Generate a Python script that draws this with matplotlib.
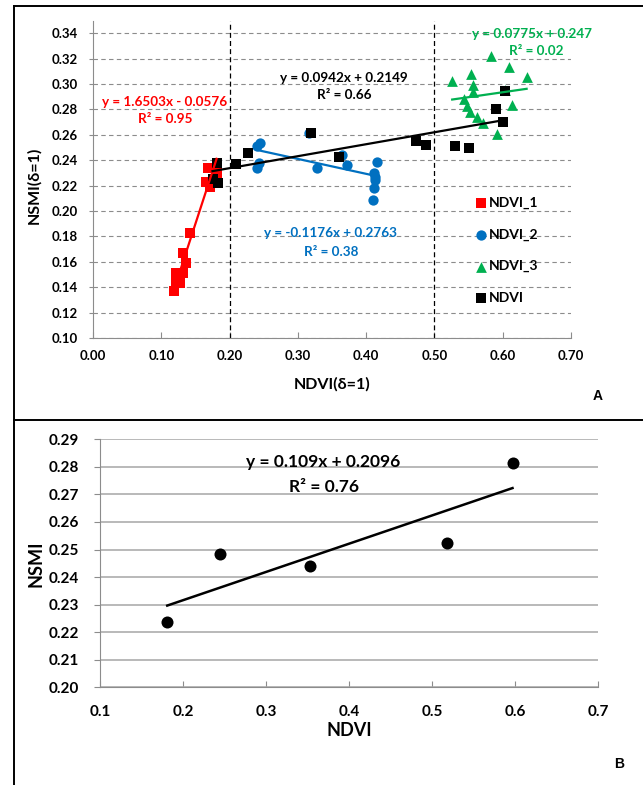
import matplotlib
matplotlib.use("Agg")
import matplotlib.pyplot as plt
from matplotlib.lines import Line2D
import numpy as np

plt.rcParams["font.family"] = ["Lato", "DejaVu Sans"]
plt.rcParams["font.weight"] = "bold"

W, H = 643, 785

# ---- panel A data ----
ndvi1_x = [0.119, 0.121, 0.127, 0.122, 0.132, 0.136, 0.132, 0.142, 0.165, 0.171, 0.169, 0.181]
ndvi1_y = [0.137, 0.143, 0.143, 0.151, 0.151, 0.159, 0.167, 0.183, 0.223, 0.219, 0.234, 0.230]

ndvi2_x = [0.2445, 0.2397, 0.2435, 0.2406, 0.3167, 0.3275, 0.364, 0.3714,
           0.4154, 0.4114, 0.413, 0.4125, 0.4114, 0.4104]
ndvi2_y = [0.2533, 0.2512, 0.238, 0.2336, 0.2617, 0.2336, 0.2441, 0.2362,
           0.2388, 0.2297, 0.2244, 0.2265, 0.2179, 0.2087]

ndvi3_x = [0.526, 0.5827, 0.609, 0.635, 0.5534, 0.5568, 0.5568, 0.5432,
           0.547, 0.552, 0.5627, 0.5715, 0.6135, 0.592, 0.603]
ndvi3_y = [0.3024, 0.322, 0.3136, 0.3058, 0.3076, 0.2992, 0.294, 0.288,
           0.2827, 0.2782, 0.2738, 0.2695, 0.2835, 0.2604, 0.2953]

ndvi_x = [0.175, 0.181, 0.1835, 0.2094, 0.2274, 0.3187, 0.3602, 0.4725,
          0.487, 0.530, 0.551, 0.590, 0.600, 0.6037]
ndvi_y = [0.225, 0.2375, 0.2223, 0.237, 0.2459, 0.2612, 0.2423, 0.2551,
          0.2517, 0.2514, 0.2494, 0.280, 0.2698, 0.2947]

series_names = ["NDVI_1", "NDVI_2", "NDVI_3", "NDVI"]
slopes = [1.6503, -0.1176, 0.0775, 0.0942]
intercepts = [-0.0576, 0.2763, 0.247, 0.2149]

# ---- panel B data ----
b_x = [0.181, 0.2446, 0.353, 0.5177, 0.597]
b_y = [0.2236, 0.2483, 0.2440, 0.2522, 0.2815]


def fx(px):
    return px / W


def fy(py):
    return 1 - py / H


fig = plt.figure(figsize=(W / 100, H / 100), dpi=100)

# frame lines around the figure
for xs, ys in [((14, W), (6, 6)), ((14, 14), (6, H)), ((14, W), (420, 420))]:
    fig.add_artist(Line2D([fx(v) for v in xs], [fy(v) for v in ys],
                          color="black", lw=1.4))

# ---------------- panel A ----------------
ax = fig.add_axes([fx(93), fy(338), fx(571) - fx(93), fy(20.5) - fy(338)])
ax.set_xlim(0, 0.7)
ax.set_ylim(0.10, 0.35)
ax.set_xticks(np.arange(0, 0.71, 0.1))
ax.set_yticks(np.arange(0.10, 0.341, 0.02))
ax.xaxis.set_major_formatter(plt.FormatStrFormatter("%.2f"))
ax.yaxis.set_major_formatter(plt.FormatStrFormatter("%.2f"))
ax.grid(axis="y", color="#8c8c8c", ls=(0, (4, 3)), lw=0.8)
ax.set_axisbelow(True)
for s in ["top", "right"]:
    ax.spines[s].set_visible(False)
for s in ["left", "bottom"]:
    ax.spines[s].set_color("#8c8c8c")
ax.tick_params(axis="x", direction="in", length=4, color="#8c8c8c", pad=9, labelsize=9.5)
ax.tick_params(axis="y", direction="out", length=3, color="#8c8c8c", pad=8, labelsize=9.5)

for xv in [0.2, 0.5]:
    ax.axvline(xv, color="black", ls=(0, (4, 2.5)), lw=0.9)

colors = ["#ff0000", "#0070c0", "#00b050", "black"]
markers = ["s", "o", "^", "s"]
sizes = [55, 55, 60, 50]
xs_all = [ndvi1_x, ndvi2_x, ndvi3_x, ndvi_x]
ys_all = [ndvi1_y, ndvi2_y, ndvi3_y, ndvi_y]
for i in range(4):
    ax.scatter(xs_all[i], ys_all[i], marker=markers[i], s=sizes[i],
               color=colors[i], label=series_names[i], zorder=3 + i, linewidths=0)

# trend lines over each series range
for i in range(4):
    xr = np.array([min(xs_all[i]), max(xs_all[i])])
    ax.plot(xr, slopes[i] * xr + intercepts[i], color=colors[i], lw=1.6, zorder=10)

ax.set_xlabel("NDVI(δ=1)", fontsize=11.5, fontweight="bold")
ax.set_ylabel("NSMI(δ=1)", fontsize=11.5, fontweight="bold")
ax.xaxis.set_label_coords(0.5, -0.123)
ax.yaxis.set_label_coords(-0.109, 0.48)

leg = ax.legend(loc="upper left", bbox_to_anchor=(fx(468), fy(190)),
                bbox_transform=fig.transFigure, frameon=False,
                fontsize=10, handlelength=0.8, handletextpad=0.2,
                labelspacing=1.4, borderpad=0)

# equation labels (text, centre x px, baseline y px, colour)
eq_labels = [
    ("y = 1.6503x - 0.0576", 165, 106, colors[0]),
    ("R² = 0.95", 165, 123.3, colors[0]),
    ("y = 0.0942x + 0.2149", 344, 81.7, "black"),
    ("R² = 0.66", 344.5, 99, "black"),
    ("y = -0.1176x + 0.2763", 331, 237.3, colors[1]),
    ("R² = 0.38", 331, 255.7, colors[1]),
    ("y = 0.0775x + 0.247", 532.5, 37.7, colors[2]),
    ("R² = 0.02", 536.5, 55, colors[2]),
]
for txt, px, py, c in eq_labels:
    fig.text(fx(px), fy(py), txt, color=c, fontsize=9.7, fontweight="bold",
             ha="center", va="baseline")

fig.text(fx(598), fy(400), "A", fontsize=10, fontweight="bold",
         family="Liberation Sans", ha="center", va="baseline")

# ---------------- panel B ----------------
bx = fig.add_axes([fx(100), fy(687.3), fx(598) - fx(100), fy(439.3) - fy(687.3)])
bx.set_xlim(0.1, 0.7)
bx.set_ylim(0.20, 0.29)
bx.set_xticks(np.arange(0.1, 0.71, 0.1))
bx.set_yticks(np.arange(0.20, 0.291, 0.01))
bx.xaxis.set_major_formatter(plt.FormatStrFormatter("%.1f"))
bx.yaxis.set_major_formatter(plt.FormatStrFormatter("%.2f"))
bx.grid(axis="y", color="#a6a6a6", lw=1.1)
bx.set_axisbelow(True)
for s in ["top", "right"]:
    bx.spines[s].set_visible(False)
for s in ["left", "bottom"]:
    bx.spines[s].set_color("#8c8c8c")
bx.tick_params(axis="x", direction="in", length=4, color="#8c8c8c", pad=13, labelsize=11)
bx.tick_params(axis="y", direction="out", length=4, color="#8c8c8c", pad=11, labelsize=11)

bx.scatter(b_x, b_y, s=75, color="black", zorder=3, linewidths=0)
k, b0 = np.polyfit(b_x, b_y, 1)
xr = np.array([min(b_x), max(b_x)])
bx.plot(xr, k * xr + b0, color="black", lw=1.8, zorder=4)

bx.set_xlabel("NDVI", fontsize=13, fontweight="bold")
bx.set_ylabel("NSMI", fontsize=13, fontweight="bold")
bx.xaxis.set_label_coords(0.5, -0.14)
bx.yaxis.set_label_coords(-0.112, 0.5)

fig.text(fx(323.5), fy(466.7), "y = 0.109x + 0.2096", fontsize=12.5,
         fontweight="bold", ha="center", va="baseline")
fig.text(fx(324), fy(492.3), "R² = 0.76", fontsize=12.5,
         fontweight="bold", ha="center", va="baseline")
fig.text(fx(619), fy(767.7), "B", fontsize=10, fontweight="bold",
         family="Liberation Sans", ha="center", va="baseline")

fig.savefig("out.png", dpi=100)
